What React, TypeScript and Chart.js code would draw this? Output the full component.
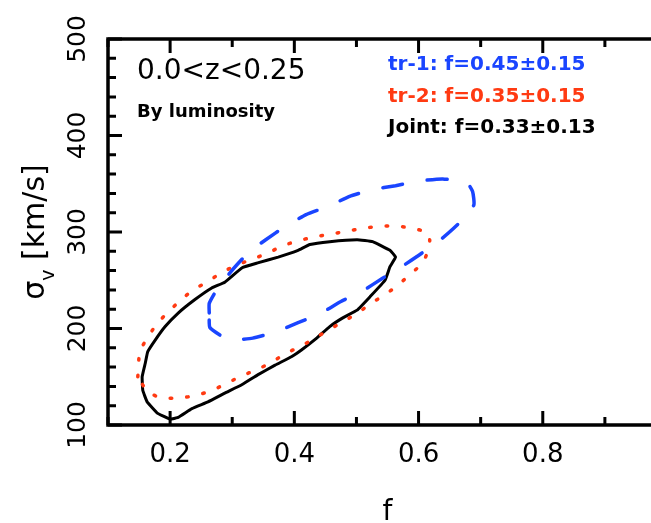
import React, { useEffect, useRef } from "react";
import { Chart, registerables } from "chart.js";

Chart.register(...registerables);

// Confidence contours in the (f, sigma_v) plane
const blackF = [0.200, 0.180, 0.163, 0.156, 0.155, 0.160, 0.164, 0.176, 0.192, 0.213, 0.240, 0.267, 0.288, 0.316, 0.341, 0.374, 0.406, 0.425, 0.457, 0.501, 0.526, 0.554, 0.563, 0.554, 0.546, 0.522, 0.501, 0.478, 0.457, 0.436, 0.412, 0.396, 0.369, 0.341, 0.316, 0.288, 0.261, 0.235, 0.213];
const blackSigma = [106, 112, 124, 136, 150, 164, 176, 188, 202, 216, 230, 242, 248, 263, 268, 274, 281, 287, 290, 292, 290, 281, 274, 264, 250, 233, 219, 211, 202, 190, 178, 171, 162, 152, 142, 133, 124, 117, 108];

const redF = [0.148, 0.151, 0.164, 0.180, 0.197, 0.216, 0.237, 0.259, 0.283, 0.308, 0.333, 0.357, 0.382, 0.407, 0.433, 0.460, 0.486, 0.512, 0.538, 0.565, 0.591, 0.615, 0.618, 0.616, 0.607, 0.588, 0.567, 0.546, 0.523, 0.502, 0.478, 0.454, 0.433, 0.409, 0.385, 0.364, 0.338, 0.312, 0.288, 0.264, 0.238, 0.213, 0.187, 0.164];
const redSigma = [150, 176, 191, 206, 217, 229, 240, 248, 258, 266, 272, 278, 286, 291, 295, 298, 301, 304, 306, 306, 304, 299, 291, 282, 268, 257, 245, 235, 226, 216, 207, 198, 190, 181, 174, 165, 157, 150, 142, 135, 130, 128, 128, 134];

const blueF = [0.263, 0.263, 0.275, 0.298, 0.325, 0.354, 0.386, 0.419, 0.456, 0.489, 0.526, 0.563, 0.602, 0.639, 0.678, 0.687, 0.689, 0.665, 0.639, 0.605, 0.575, 0.542, 0.510, 0.475, 0.443, 0.406, 0.372, 0.333, 0.298, 0.288, 0.264];
const blueSigma = [216, 226, 240, 259, 278, 292, 306, 318, 327, 337, 344, 348, 353, 355, 351, 342, 328, 309, 294, 278, 265, 252, 239, 228, 216, 206, 197, 190, 188, 190, 201];

// Axis ranges and ticks
const xRange = [0.1, 1.0];
const yRange = [100, 500];
const xMajorTicks = [0.2, 0.4, 0.6, 0.8, 1.0];
const xMinorTicks = [0.1, 0.3, 0.5, 0.7, 0.9];
const xTickLabels = ["0.2", "0.4", "0.6", "0.8"];
const yMajorTicks = [100, 200, 300, 400, 500];
const yMinorStep = 20;
const yTickLabels = ["100", "200", "300", "400", "500"];

// Annotation text
const titleText = "0.0<z<0.25";
const subtitleText = "By luminosity";
const legendLines = [
  { text: "tr-1: f=0.45±0.15", color: "#1a45ff" },
  { text: "tr-2: f=0.35±0.15", color: "#ff3a12" },
  { text: "Joint: f=0.33±0.13", color: "#000000" },
];

const BLUE = "#1a45ff";
const RED = "#ff3a12";
const FONT = "'DejaVu Sans', sans-serif";

function loop(fs: number[], ss: number[]) {
  const pts = fs.map((f, i) => ({ x: f, y: ss[i] }));
  pts.push({ ...pts[0] });
  return pts;
}

const framePlugin = {
  id: "frameAndLabels",
  afterDraw(chart: any) {
    const { ctx, chartArea, scales } = chart;
    const xs = scales.x;
    const ys = scales.y;
    const { left, right, top, bottom } = chartArea;
    ctx.save();
    ctx.strokeStyle = "#000";
    ctx.fillStyle = "#000";
    ctx.lineWidth = 3.5;
    ctx.lineCap = "butt";
    // box
    ctx.beginPath();
    ctx.rect(left, top, right - left, bottom - top);
    ctx.stroke();

    // x ticks (bottom and top, pointing inward)
    const drawXTick = (v: number, len: number) => {
      const px = xs.getPixelForValue(v);
      ctx.beginPath();
      ctx.moveTo(px, bottom);
      ctx.lineTo(px, bottom - len);
      ctx.moveTo(px, top);
      ctx.lineTo(px, top + len);
      ctx.stroke();
    };
    ctx.lineWidth = 3;
    xMajorTicks.forEach((v) => drawXTick(v, 14));
    xMinorTicks.forEach((v) => drawXTick(v, 8));

    // y ticks (left and right, pointing inward)
    const drawYTick = (v: number, len: number) => {
      const py = ys.getPixelForValue(v);
      ctx.beginPath();
      ctx.moveTo(left, py);
      ctx.lineTo(left + len, py);
      ctx.moveTo(right, py);
      ctx.lineTo(right - len, py);
      ctx.stroke();
    };
    yMajorTicks.forEach((v) => drawYTick(v, 14));
    for (let v = yRange[0]; v <= yRange[1]; v += yMinorStep) {
      if (v % 100 !== 0) drawYTick(v, 8);
    }

    // x tick labels
    ctx.font = `26px ${FONT}`;
    ctx.textAlign = "center";
    ctx.textBaseline = "alphabetic";
    xTickLabels.forEach((lab) => {
      ctx.fillText(lab, xs.getPixelForValue(parseFloat(lab)), bottom + 37);
    });

    // y tick labels, rotated
    ctx.font = `25px ${FONT}`;
    yTickLabels.forEach((lab) => {
      const py = ys.getPixelForValue(parseFloat(lab));
      ctx.save();
      ctx.translate(left - 23, py);
      ctx.rotate(-Math.PI / 2);
      ctx.textAlign = "center";
      ctx.fillText(lab, 0, 0);
      ctx.restore();
    });

    // x axis title
    ctx.font = `28px ${FONT}`;
    ctx.textAlign = "center";
    ctx.fillText("f", (left + right) / 2, 520);

    // y axis title: sigma with subscript v, then units
    ctx.save();
    const midY = (top + bottom) / 2;
    ctx.translate(44, midY);
    ctx.rotate(-Math.PI / 2);
    ctx.textAlign = "left";
    const bigFont = `30px ${FONT}`;
    const subFont = `19px ${FONT}`;
    ctx.font = bigFont;
    const wSig = ctx.measureText("σ").width;
    const wUnits = ctx.measureText(" [km/s]").width;
    ctx.font = subFont;
    const wSub = ctx.measureText("v").width;
    const total = wSig + wSub + wUnits;
    let tx = -total / 2;
    ctx.font = bigFont;
    ctx.fillText("σ", tx, 0);
    tx += wSig;
    ctx.font = subFont;
    ctx.fillText("v", tx, 10);
    tx += wSub;
    ctx.font = bigFont;
    ctx.fillText(" [km/s]", tx, 0);
    ctx.restore();

    // annotations
    ctx.textAlign = "left";
    ctx.font = `28px ${FONT}`;
    ctx.fillText(titleText, 137, 79);
    ctx.font = `bold 18px ${FONT}`;
    ctx.fillText(subtitleText, 137, 117);
    ctx.font = `bold 20px ${FONT}`;
    legendLines.forEach((l, i) => {
      ctx.fillStyle = l.color;
      ctx.fillText(l.text, 388, 70 + i * 31.5);
    });
    ctx.restore();
  },
};

export default function App() {
  const ref = useRef<HTMLCanvasElement | null>(null);

  useEffect(() => {
    document.body.style.margin = "0";
    document.body.style.overflow = "hidden";
    document.documentElement.style.overflow = "hidden";
    const canvas = ref.current;
    if (!canvas) return;
    const chart = new Chart(canvas, {
      type: "scatter",
      data: {
        datasets: [
          {
            label: "tr-1",
            data: loop(blueF, blueSigma),
            showLine: true,
            borderColor: BLUE,
            borderWidth: 3.5,
            borderDash: [20, 25],
            borderCapStyle: "round",
            pointRadius: 0,
            tension: 0.15,
            fill: false,
          },
          {
            label: "tr-2",
            data: loop(redF, redSigma),
            showLine: true,
            borderColor: RED,
            borderWidth: 3.5,
            borderDash: [1.5, 15],
            borderCapStyle: "round",
            pointRadius: 0,
            tension: 0.15,
            fill: false,
          },
          {
            label: "Joint",
            data: loop(blackF, blackSigma),
            showLine: true,
            borderColor: "#000000",
            borderWidth: 3,
            pointRadius: 0,
            tension: 0.1,
            fill: false,
          },
        ],
      },
      options: {
        responsive: false,
        animation: false,
        devicePixelRatio: 1,
        layout: { padding: { left: 108, top: 39, right: 13, bottom: 98 } },
        plugins: {
          legend: { display: false },
          tooltip: { enabled: false },
        },
        scales: {
          x: { type: "linear", min: xRange[0], max: xRange[1], display: false },
          y: { type: "linear", min: yRange[0], max: yRange[1], display: false },
        },
      },
      plugins: [framePlugin],
    });
    return () => chart.destroy();
  }, []);

  return (
    <div style={{ width: 651, height: 523, overflow: "hidden", background: "#fff" }}>
      <canvas ref={ref} width={680} height={523} style={{ display: "block", width: 680, height: 523 }} />
    </div>
  );
}
